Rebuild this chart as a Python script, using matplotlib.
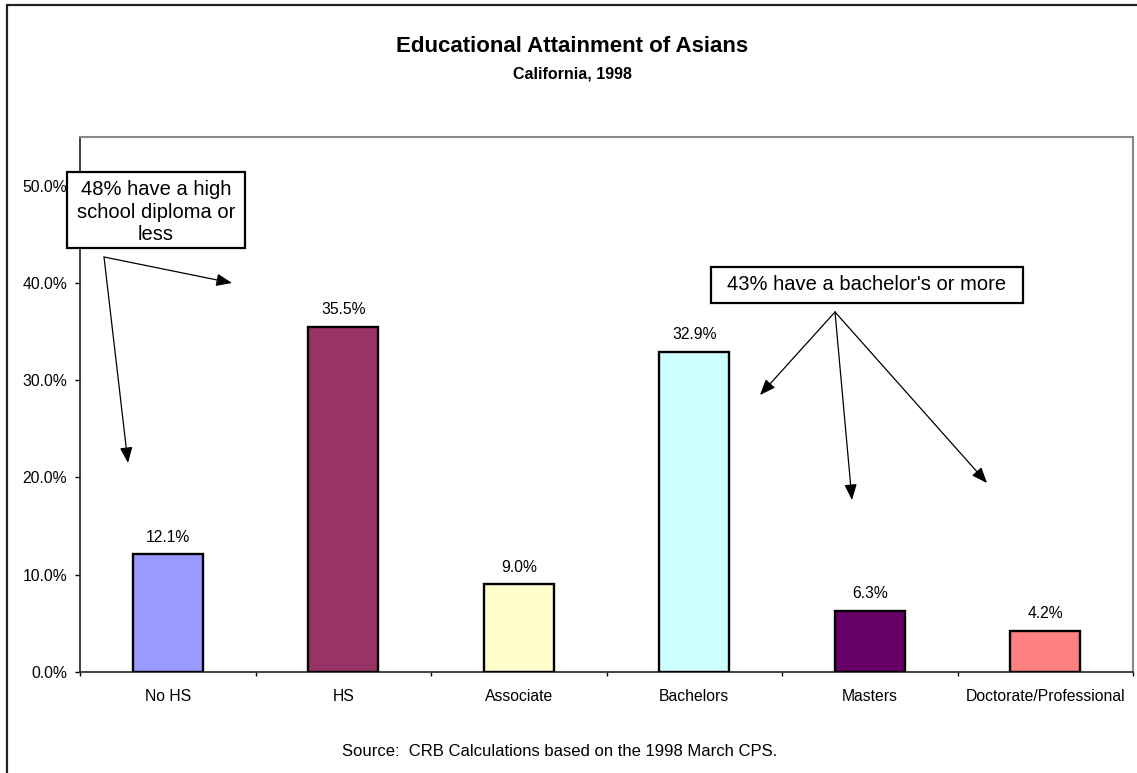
import matplotlib
matplotlib.use("Agg")
import matplotlib.pyplot as plt
from matplotlib.patches import Rectangle
from matplotlib.text import Annotation
from matplotlib.ticker import FuncFormatter, MultipleLocator

plt.rcParams['font.family'] = ['Liberation Sans', 'DejaVu Sans']

categories = ["No HS", "HS", "Associate", "Bachelors", "Masters", "Doctorate/Professional"]
shares = [12.1, 35.5, 9.0, 32.9, 6.3, 4.2]
bar_colors = ["#9999FF", "#993366", "#FFFFCC", "#CCFFFF", "#660066", "#FF8080"]

W, H = 1137, 773
fig = plt.figure(figsize=(W / 100, H / 100), dpi=100)


def fpx(x, y):
    """Figure fraction from pixel position measured from the top-left corner."""
    return x / W, 1 - y / H


def box_px(x0, y0, x1, y1, **kw):
    """Rectangle given by top-left / bottom-right pixel corners."""
    return Rectangle(fpx(x0, y1), (x1 - x0) / W, (y1 - y0) / H,
                     transform=fig.transFigure, **kw)


# outer chart frame
fig.patches.append(box_px(7, 5, 1180, 820, fill=False, edgecolor="#222222",
                          linewidth=1.6, zorder=0))

left, top, right, bottom = 80, 137, 1133, 672
ax = fig.add_axes([left / W, 1 - bottom / H, (right - left) / W, (bottom - top) / H])

small = 11.3
x = range(len(categories))
ax.bar(x, shares, width=0.4, color=bar_colors, edgecolor="black", linewidth=1.7, zorder=3)
for xi, v in zip(x, shares):
    ax.text(xi, v + 1.0, f"{v:.1f}%", ha="center", va="bottom", fontsize=small)

ax.set_xlim(-0.5, len(categories) - 0.5)
ax.set_ylim(0, 55)
ax.yaxis.set_major_locator(MultipleLocator(10))
ax.yaxis.set_major_formatter(FuncFormatter(lambda v, p: f"{v:.1f}%" if v <= 50 else ""))
ax.set_xticks(list(x))
ax.set_xticklabels(categories, fontsize=small)
ax.set_xticks([i + 0.5 for i in range(-1, len(categories))], minor=True)
ax.tick_params(axis="x", which="major", length=0, pad=12.5)
ax.tick_params(axis="x", which="minor", length=3.2, width=1, direction="out")
ax.tick_params(axis="y", length=3.6, width=1, direction="out", labelsize=small, pad=5.6)

for side in ("top", "right"):
    ax.spines[side].set_color("#888888")
    ax.spines[side].set_linewidth(1.5)
for side in ("left", "bottom"):
    ax.spines[side].set_color("#333333")
    ax.spines[side].set_linewidth(1.3)

fig.text(*fpx(572, 46), "Educational Attainment of Asians", ha="center", va="center",
         fontsize=16, fontweight="bold")
fig.text(*fpx(572, 74), "California, 1998", ha="center", va="center",
         fontsize=11.5, fontweight="bold")
fig.text(*fpx(560, 752), "Source:  CRB Calculations based on the 1998 March CPS.",
         ha="center", va="center", fontsize=12)

# callout boxes
fig.patches.append(box_px(67, 172, 245, 248, facecolor="white", edgecolor="black",
                          linewidth=1.6, zorder=5))
fig.text(*fpx(156, 212), "48% have a high\nschool diploma or\nless", ha="center",
         va="center", fontsize=14.5, linespacing=1.26, zorder=6)
fig.patches.append(box_px(711, 267, 1023, 303, facecolor="white", edgecolor="black",
                          linewidth=1.6, zorder=5))
fig.text(*fpx(867, 285), "43% have a bachelor's or more", ha="center", va="center",
         fontsize=14.5, zorder=6)

arrow = dict(arrowstyle="-|>,head_length=0.95,head_width=0.38", color="black",
             linewidth=0.9, shrinkA=0, shrinkB=0)
callouts = [((104, 257), [(232, 283), (128, 463)]),
            ((835, 312), [(760, 395), (852, 500), (987, 483)])]
for start, ends in callouts:
    for end in ends:
        fig.add_artist(Annotation("", xy=fpx(*end), xytext=fpx(*start),
                                  xycoords="figure fraction", textcoords="figure fraction",
                                  arrowprops=arrow))

fig.savefig("out.png", dpi=100)
